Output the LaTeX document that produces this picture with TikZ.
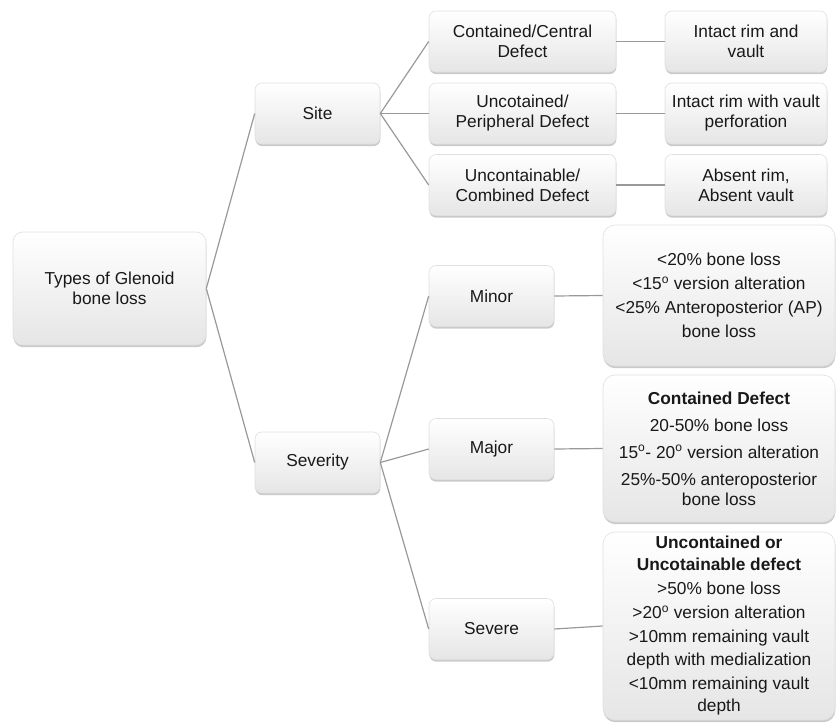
\documentclass[tikz,border=0pt]{standalone}
\usepackage{fontspec}
\setmainfont{Liberation Sans}
\usetikzlibrary{positioning,shadows}
\tikzset{
  boxbase/.style={draw=gray!25, line width=0.6pt, top color=white, bottom color=gray!20, align=center, inner sep=0pt, text=black!90,
    drop shadow={shadow xshift=0.4pt, shadow yshift=-2.2pt, opacity=0.55, fill=gray!75}},
  catbox/.style={boxbase, rounded corners=7pt, minimum width=125pt, minimum height=61pt},
  subbox/.style={boxbase, rounded corners=7pt, minimum width=187pt, minimum height=61pt},
  leafbox/.style={boxbase, rounded corners=7pt, minimum width=162pt, minimum height=61pt},
  detailbox/.style={boxbase, rounded corners=12pt, minimum width=232pt},
  linkline/.style={draw=gray!80, line width=1.2pt}
}
\begin{document}
\begin{tikzpicture}[x=1pt, y=-1pt, every node/.style={font=\fontsize{17.3}{20}\selectfont}]
      \useasboundingbox (0,0) rectangle (840,725);
      % root
      \node[boxbase, rounded corners=10pt, minimum width=193pt, minimum height=113pt] (root) at (109.5,288.5) {Types of Glenoid\\bone loss};
      \node[catbox] (site) at (317.5,113.5) {Site};
      \node[catbox] (sever) at (317.5,462.5) {Severity};
      % site branch
      \node[subbox] (central) at (522.5,41.5) {Contained/Central\\Defect};
      \node[subbox] (peri) at (522.5,113.5) {Uncotained/\\Peripheral Defect};
      \node[subbox] (comb) at (522.5,185) {Uncontainable/\\Combined Defect};
      \node[leafbox] (rimvault) at (746,41.5) {Intact rim and\\vault};
      \node[leafbox] (rimperf) at (746,113.5) {Intact rim with vault\\perforation};
      \node[leafbox] (norim) at (746,185) {Absent rim,\\Absent vault};
      % severity branch
      \node[catbox] (minor) at (491.5,296) {Minor};
      \node[catbox] (major) at (491.5,449) {Major};
      \node[catbox] (severe) at (491.5,629) {Severe};
      \node[detailbox, minimum height=141pt] (minordet) at (719,295.5)
        {{\textless}20\% bone loss\\[4pt]{\textless}15\textsuperscript{o} version alteration\\[4pt]{\textless}25\% Anteroposterior (AP)\\[4pt]bone loss};
      \node[detailbox, minimum height=147pt] (majordet) at (719,448.5)
        {\textbf{Contained Defect}\\[7pt]20-50\% bone loss\\[7pt]15\textsuperscript{o}- 20\textsuperscript{o} version alteration\\[7pt]25\%-50\% anteroposterior\\bone loss};
      \node[detailbox, minimum height=188pt] (severedet) at (719,626)
        {\textbf{Uncontained or}\\[2pt]\textbf{Uncotainable defect}\\[4pt]{\textgreater}50\% bone loss\\[4pt]{\textgreater}20\textsuperscript{o} version alteration\\[4pt]{\textgreater}10mm remaining vault\\[3pt]depth with medialization\\[4pt]{\textless}10mm remaining vault\\[2pt]depth};
      % connectors
      \draw[linkline] (root.east) -- (site.west);
      \draw[linkline] (root.east) -- (sever.west);
      \foreach \c in {central,peri,comb}
        \draw[linkline] (site.east) -- (\c.west);
      \draw[linkline] (central.east) -- (rimvault.west);
      \draw[linkline] (peri.east) -- (rimperf.west);
      \draw[linkline] (comb.east) -- (norim.west);
      \foreach \c in {minor,major,severe}
        \draw[linkline] (sever.east) -- (\c.west);
      \draw[linkline] (minor.east) -- (minordet.west);
      \draw[linkline] (major.east) -- (majordet.west);
      \draw[linkline] (severe.east) -- (severedet.west);
    \end{tikzpicture}
\end{document}
